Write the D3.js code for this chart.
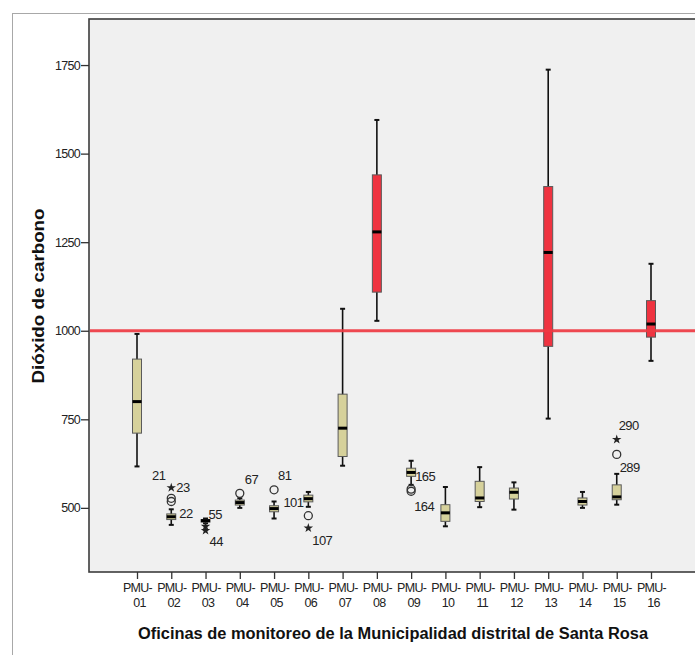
<!DOCTYPE html>
<html>
<head>
<meta charset="utf-8">
<script src="https://cdn.jsdelivr.net/npm/d3@7"></script>
<style>
  body { margin: 0; background: #fff; }
  svg { display: block; font-family: "Liberation Sans", Arial, sans-serif; }
</style>
</head>
<body>
<div id="chart"></div>
<script>
// categories (monitoring offices)
const categories = ['PMU-01', 'PMU-02', 'PMU-03', 'PMU-04', 'PMU-05', 'PMU-06', 'PMU-07', 'PMU-08',
    'PMU-09', 'PMU-10', 'PMU-11', 'PMU-12', 'PMU-13', 'PMU-14', 'PMU-15', 'PMU-16'];

// box plot statistics
const whiskerLow  = [617, 452, 457, 500, 470, 503, 619, 1028, 565, 448, 502, 495, 752, 500, 509, 915];
const q1          = [711, 467, 460, 508, 489, 517, 645, 1109, 589, 462, 518, 525, 956, 508, 523, 982];
const median      = [800, 475, 464, 515, 498, 526, 725, 1279, 600, 486, 528, 544, 1221, 518, 531, 1019];
const q3          = [920, 483, 467, 522, 506, 536, 821, 1440, 612, 509, 575, 556, 1407, 528, 565, 1085];
const whiskerHigh = [991, 496, 470, 527, 518, 545, 1062, 1595, 633, 559, 615, 572, 1737, 545, 596, 1189];

// offices over the limit (drawn red)
const overLimit = ['PMU-08', 'PMU-13', 'PMU-16'];

// outliers: case id, office, value, kind
const outlierIds    = ['23', '21', '22', '55', '44', '67', '81', '101', '107', '165', '164', '290', '289'];
const outlierCats   = ['PMU-02', 'PMU-02', 'PMU-02', 'PMU-03', 'PMU-03', 'PMU-04', 'PMU-05', 'PMU-06',
    'PMU-06', 'PMU-09', 'PMU-09', 'PMU-15', 'PMU-15'];
const outlierValues = [557, 527, 518, 448, 436, 541, 551, 478, 443, 553, 547, 693, 651];
const outlierKinds  = ['star', 'circle', 'circle', 'star', 'star', 'circle', 'circle', 'circle',
    'star', 'circle', 'circle', 'star', 'circle'];

const yTicks = [500, 750, 1000, 1250, 1500, 1750];
const limitValue = 1000;

// label placement next to each outlier symbol (px)
const labelOffset = {
    '23': [5, 0, 'start'], '21': [-6, -23, 'end'], '22': [8, 12, 'start'],
    '55': [3, -12, 'start'], '44': [4, 11, 'start'], '67': [5, -14, 'start'],
    '81': [4, -14, 'start'], '101': [-5, -13, 'end'], '107': [4, 12, 'start'],
    '165': [4, -13, 'start'], '164': [3, 15, 'start'], '290': [2, -14, 'start'],
    '289': [3, 13, 'start']
};

const W = 695, H = 655;
const plot = { left: 89, top: 19, right: 702, bottom: 572 };

const svg = d3.select('#chart').append('svg')
    .attr('width', W)
    .attr('height', H);

// outer frame
svg.append('rect')
    .attr('x', 12.5).attr('y', 13.5)
    .attr('width', W).attr('height', H)
    .attr('fill', 'none')
    .attr('stroke', '#a8a8a8');

// plot background
svg.append('rect')
    .attr('x', plot.left).attr('y', plot.top)
    .attr('width', plot.right - plot.left).attr('height', plot.bottom - plot.top)
    .attr('fill', '#f0f0f0')
    .attr('stroke', '#3c3c3c')
    .attr('stroke-width', 1.6);

const y = d3.scaleLinear()
    .domain([319, 1880])
    .range([plot.bottom, plot.top]);

const x = d3.scalePoint()
    .domain(categories)
    .range([137, 651]);

// y axis
const yAxis = svg.append('g')
    .attr('transform', `translate(${plot.left},0)`)
    .call(d3.axisLeft(y).tickValues(yTicks).tickFormat(d3.format('d')).tickSize(8).tickPadding(1));
yAxis.select('.domain').remove();
yAxis.selectAll('line').attr('stroke', '#333').attr('stroke-width', 1.3);
yAxis.selectAll('text')
    .attr('font-family', '"Liberation Sans", Arial, sans-serif')
    .attr('font-size', 12.5)
    .attr('letter-spacing', -0.7)
    .attr('fill', '#222');

// x axis
const xAxis = svg.append('g')
    .attr('transform', `translate(0,${plot.bottom})`)
    .call(d3.axisBottom(x).tickSize(7).tickFormat(''));
xAxis.select('.domain').remove();
xAxis.selectAll('line').attr('stroke', '#333').attr('stroke-width', 1.3);
const xt = xAxis.selectAll('.tick').append('text')
    .attr('text-anchor', 'middle')
    .attr('font-family', '"Liberation Sans", Arial, sans-serif')
    .attr('font-size', 12.5)
    .attr('letter-spacing', -0.7)
    .attr('fill', '#222');
xt.append('tspan').attr('x', 0).attr('y', 20).text(d => d.split('-')[0] + '-');
xt.append('tspan').attr('x', 2).attr('y', 35).text(d => d.split('-')[1]);

// boxes
const boxes = categories.map((c, i) => ({
    cat: c, lo: whiskerLow[i], q1: q1[i], med: median[i], q3: q3[i], hi: whiskerHigh[i],
    red: overLimit.includes(c)
}));
const bw = 9;

const g = svg.append('g');
const box = g.selectAll('.box').data(boxes).enter().append('g')
    .attr('class', 'box')
    .attr('transform', d => `translate(${x(d.cat)},0)`);

box.append('line')
    .attr('x1', 0).attr('x2', 0)
    .attr('y1', d => y(d.hi)).attr('y2', d => y(d.lo))
    .attr('stroke', '#111').attr('stroke-width', 1.6);
box.selectAll('.cap').data(d => [d.lo, d.hi]).enter().append('line')
    .attr('x1', -2.5).attr('x2', 2.5)
    .attr('y1', v => y(v)).attr('y2', v => y(v))
    .attr('stroke', '#111').attr('stroke-width', 2);
box.append('rect')
    .attr('x', -bw / 2)
    .attr('width', bw)
    .attr('y', d => y(d.q3))
    .attr('height', d => Math.max(1, y(d.q1) - y(d.q3)))
    .attr('fill', d => d.red ? '#ef3340' : '#d6d19b')
    .attr('stroke', '#5a5a5a')
    .attr('stroke-width', 1);
box.append('line')
    .attr('x1', -bw / 2).attr('x2', bw / 2)
    .attr('y1', d => y(d.med)).attr('y2', d => y(d.med))
    .attr('stroke', '#000').attr('stroke-width', 3);

// limit line at 1000
svg.append('line')
    .attr('x1', plot.left + 1).attr('x2', W)
    .attr('y1', y(limitValue)).attr('y2', y(limitValue))
    .attr('stroke', '#ee3a42')
    .attr('stroke-opacity', 0.92)
    .attr('stroke-width', 3);

// outliers
const outliers = outlierIds.map((id, i) => ({
    id, cat: outlierCats[i], value: outlierValues[i], kind: outlierKinds[i]
}));
const og = svg.append('g');
og.selectAll('circle').data(outliers.filter(d => d.kind === 'circle')).enter().append('circle')
    .attr('cx', d => x(d.cat)).attr('cy', d => y(d.value))
    .attr('r', 4)
    .attr('fill', 'none')
    .attr('stroke', '#333')
    .attr('stroke-width', 1.3);
og.selectAll('.star').data(outliers.filter(d => d.kind === 'star')).enter().append('path')
    .attr('class', 'star')
    .attr('transform', d => `translate(${x(d.cat)},${y(d.value)})`)
    .attr('d', d3.symbol().type(d3.symbolStar).size(28))
    .attr('fill', '#222');
og.selectAll('text').data(outliers).enter().append('text')
    .attr('x', d => x(d.cat) + labelOffset[d.id][0])
    .attr('y', d => y(d.value) + labelOffset[d.id][1])
    .attr('dy', '0.35em')
    .attr('text-anchor', d => labelOffset[d.id][2])
    .attr('font-size', 13)
    .attr('letter-spacing', -0.6)
    .attr('fill', '#222')
    .text(d => d.id);

// axis titles
svg.append('text')
    .attr('x', 393).attr('y', 639)
    .attr('text-anchor', 'middle')
    .attr('font-family', '"Liberation Sans", Arial, sans-serif')
    .attr('font-weight', 'bold')
    .attr('font-size', 16)
    .attr('textLength', 510)
    .attr('lengthAdjust', 'spacingAndGlyphs')
    .attr('fill', '#111')
    .text('Oficinas de monitoreo de la Municipalidad distrital de Santa Rosa');

svg.append('text')
    .attr('transform', 'translate(44,296) rotate(-90)')
    .attr('text-anchor', 'middle')
    .attr('font-family', '"Liberation Sans", Arial, sans-serif')
    .attr('font-weight', 'bold')
    .attr('font-size', 16)
    .attr('textLength', 175)
    .attr('lengthAdjust', 'spacingAndGlyphs')
    .attr('fill', '#111')
    .text('Dióxido de carbono');
</script>
</body>
</html>
